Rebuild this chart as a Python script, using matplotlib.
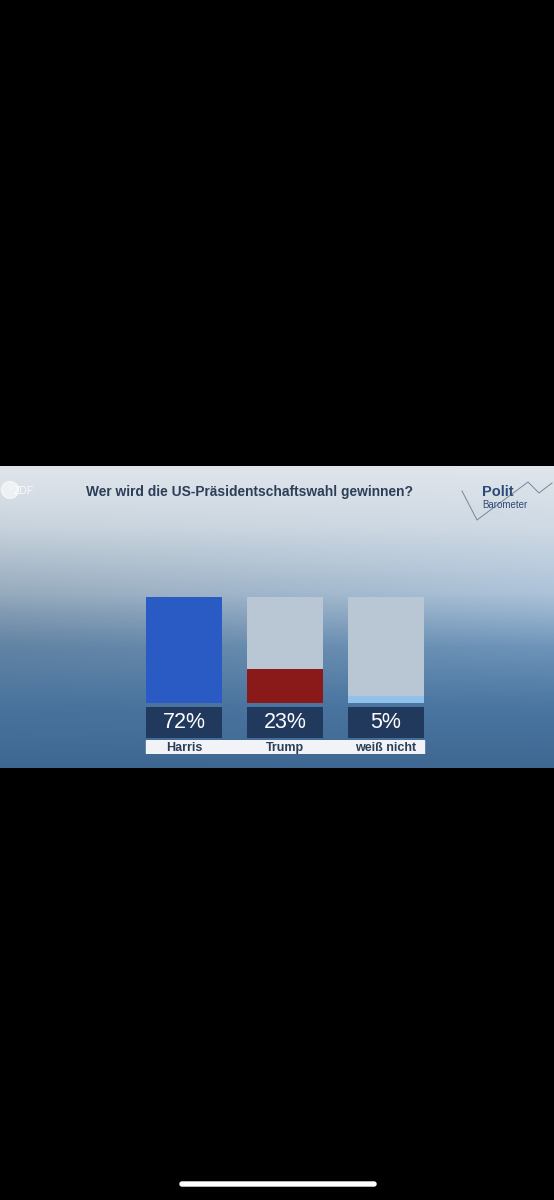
import matplotlib.pyplot as plt
import numpy as np
from matplotlib.colors import to_rgb
from matplotlib.patches import FancyBboxPatch

# data
kandidaten = ["Harris", "Trump", "weiß nicht"]
werte = [72, 23, 5]
farben = ["#2a5bc4", "#8a1a1a", "#8fc3ee"]
titel = "Wer wird die US-Präsidentschaftswahl gewinnen?"

W, H = 554, 1200
fig = plt.figure(figsize=(W / 100, H / 100), dpi=100, facecolor="black")


def ax_px(x0, y0, x1, y1):
    # pixel box (top-left origin) -> figure axes
    return fig.add_axes([x0 / W, 1 - y1 / H, (x1 - x0) / W, (y1 - y0) / H])


# screenshot background with gradient
bg = ax_px(0, 466, 554, 768)
ny, nx = 150, 120
stops_y = [0.0, 0.2, 0.42, 0.6, 0.8, 1.0]
stops_c = ["#e0e5eb", "#cdd8e2", "#a6bcd1", "#6a8fb3", "#4a75a0", "#3e6892"]
rows = np.zeros((ny, 3))
t = np.linspace(0, 1, ny)
for k in range(3):
    rows[:, k] = np.interp(t, stops_y, [to_rgb(c)[k] for c in stops_c])
img = np.repeat(rows[:, None, :], nx, axis=1)
xs = np.linspace(0, 1, nx)
shade = 0.9 + 0.14 * xs  # left darker, right a bit lighter
mid = np.exp(-((t - 0.5) / 0.25) ** 2)
img = img * (1 + (shade[None, :, None] - 1) * mid[:, None, None])
img = np.clip(img, 0, 1)
bg.imshow(img, aspect="auto", extent=[0, 1, 0, 1])
bg.set_xlim(0, 1)
bg.set_ylim(0, 1)
bg.axis("off")

# bars
x = np.arange(len(kandidaten))
ax = ax_px(133.5, 597, 436.5, 703)
ax.bar(x, [max(werte)] * len(x), width=0.752, color="#b9c7d5")
ax.bar(x, werte, width=0.752, color=farben)
ax.set_xlim(-0.5, 2.5)
ax.set_ylim(0, max(werte))
ax.axis("off")

# value boxes
vb = ax_px(133.5, 707, 436.5, 738)
vb.bar(x, [1] * len(x), width=0.752, color="#22395e")
for xi, v in zip(x, werte):
    vb.text(xi, 0.5, f"{v}%", color="white", fontsize=15.5, ha="center",
            va="center", family="Liberation Sans")
vb.set_xlim(-0.5, 2.5)
vb.set_ylim(0, 1)
vb.axis("off")

# label strip
lb = ax_px(133.5, 740, 436.5, 754)
lb.axvspan(-0.376, 2.376, color="#f1f3f6")
for xi, n in zip(x, kandidaten):
    lb.text(xi, 0.45, n, color="#2c3e58", fontsize=9, fontweight="bold",
            ha="center", va="center", family="Liberation Sans")
lb.set_xlim(-0.5, 2.5)
lb.set_ylim(0, 1)
lb.axis("off")

# overlay in pixel coords: title, logos, home indicator
ov = fig.add_axes([0, 0, 1, 1], facecolor="none")
ov.set_xlim(0, W)
ov.set_ylim(H, 0)
ov.axis("off")

ov.text(86, 492, titel, fontsize=9.95, fontweight="bold",
        color="#2c3e58", va="center", ha="left", family="Liberation Sans")
# ZDF logo
ov.add_patch(plt.Circle((10, 490), 8.5, color="white", alpha=0.6))
ov.text(14, 490.5, "ZDF", fontsize=7.5, color="white", alpha=0.85,
        va="center", ha="left", family="Liberation Sans")
# Politbarometer logo
ov.plot([462, 477, 528, 539, 552], [491, 520, 482, 493, 483],
        color="#5f7088", lw=0.7, alpha=0.8)
ov.text(482, 492.5, "Polit", fontsize=10.5, fontweight="bold",
        color="#2c4a78", va="center", ha="left", family="Liberation Sans")
ov.text(482, 504.5, "Barometer", fontsize=7, color="#2c4a78",
        va="center", ha="left", family="Liberation Sans")

ov.add_patch(FancyBboxPatch((180, 1182), 196, 4,
                            boxstyle="round,pad=0,rounding_size=2",
                            color="white"))

fig.savefig("out.png", dpi=100, facecolor="black")
